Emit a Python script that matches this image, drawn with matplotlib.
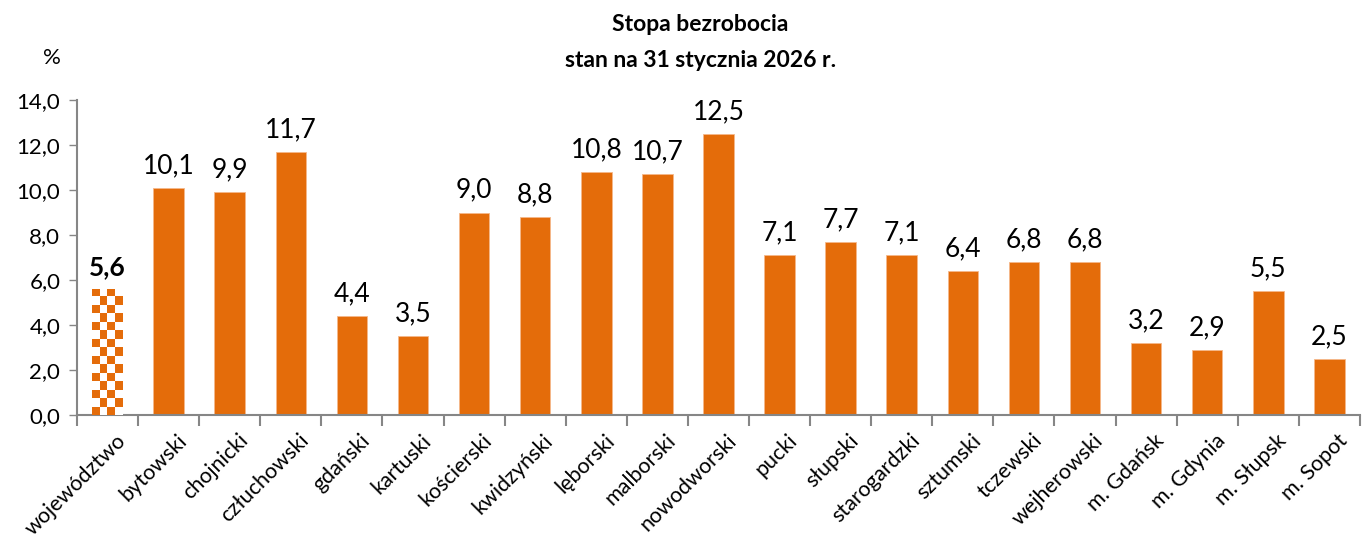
import numpy as np
import matplotlib.pyplot as plt
import matplotlib.transforms as mtransforms

plt.rcParams['font.family'] = ['Lato', 'DejaVu Sans']

powiaty = ['województwo', 'bytowski', 'chojnicki', 'człuchowski', 'gdański', 'kartuski',
           'kościerski', 'kwidzyński', 'lęborski', 'malborski', 'nowodworski', 'pucki',
           'słupski', 'starogardzki', 'sztumski', 'tczewski', 'wejherowski', 'm. Gdańsk',
           'm. Gdynia', 'm. Słupsk', 'm. Sopot']
stopa = [5.6, 10.1, 9.9, 11.7, 4.4, 3.5, 9.0, 8.8, 10.8, 10.7, 12.5, 7.1,
         7.7, 7.1, 6.4, 6.8, 6.8, 3.2, 2.9, 5.5, 2.5]

orange = '#E46C0A'
grey = '#868686'

fig = plt.figure(figsize=(13.68, 5.39), dpi=100)
ax = fig.add_axes([0.0563, 0.230, 0.9378, 0.5845])

x = np.arange(len(powiaty))
bars = ax.bar(x, stopa, width=0.5, color=orange, edgecolor='#F5B88A', linewidth=0.6, zorder=2)

# checkered bar for the voivodeship
b0 = bars[0]
b0.set_facecolor('white')
b0.set_edgecolor('white')
ncol, nrow = 4, 15
checker = (np.indices((nrow, ncol)).sum(axis=0) % 2 == 0).astype(float)
cmap = plt.matplotlib.colors.ListedColormap(['white', orange])
im = ax.imshow(checker, cmap=cmap, origin='upper', interpolation='nearest',
               extent=(b0.get_x(), b0.get_x() + b0.get_width(), 0, b0.get_height()),
               aspect='auto', zorder=3)
im.set_clip_path(b0)

ax.set_xlim(-0.5, len(powiaty) - 0.5)
ax.set_ylim(0, 14)
ax.set_yticks(np.arange(0, 14.1, 2))
ax.set_yticklabels([f'{v:.1f}'.replace('.', ',') for v in np.arange(0, 14.1, 2)], fontsize=16)
ax.tick_params(axis='y', length=6, width=1, color=grey, pad=6)

ax.set_xticks(x)
ax.set_xticklabels(powiaty, rotation=45, ha='right', rotation_mode='anchor', fontsize=15.5)
ax.tick_params(axis='x', which='major', length=0, pad=11)
offset = mtransforms.ScaledTranslation(0.08, 0, fig.dpi_scale_trans)
for lbl in ax.get_xticklabels():
    lbl.set_transform(lbl.get_transform() + offset)
ax.set_xticks(np.arange(-0.5, len(powiaty), 1), minor=True)
ax.tick_params(axis='x', which='minor', length=8, width=1.5, color=grey)

for s in ['top', 'right']:
    ax.spines[s].set_visible(False)
for s in ['left', 'bottom']:
    ax.spines[s].set_color(grey)
    ax.spines[s].set_linewidth(1.5)

for i, v in enumerate(stopa):
    ax.annotate(f'{v:.1f}'.replace('.', ','), (x[i], v), xytext=(0, 7),
                textcoords='offset points', ha='center', va='bottom', fontsize=19,
                fontweight='bold' if i == 0 else 'normal')

fig.text(0.512, 0.955, 'Stopa bezrobocia', ha='center', va='center', fontsize=16.5, fontweight='bold')
fig.text(0.512, 0.888, 'stan na 31 stycznia 2026 r.', ha='center', va='center', fontsize=16.5, fontweight='bold')
fig.text(0.038, 0.893, '%', ha='center', va='center', fontsize=16)

fig.savefig('out.png', dpi=100)
